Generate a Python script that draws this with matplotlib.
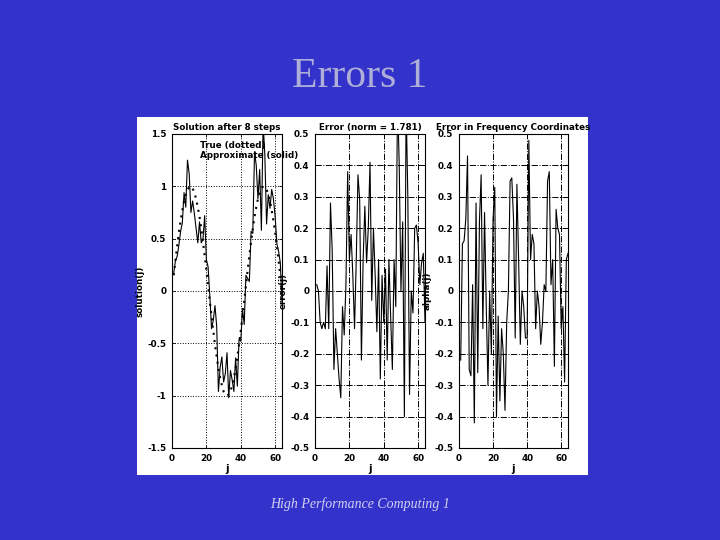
import matplotlib
matplotlib.use('Agg')
import matplotlib.pyplot as plt

# grid index j = 1..64
j = list(range(1, 65))

true_vals = [0.15, 0.29, 0.43, 0.56, 0.67, 0.77, 0.86, 0.92, 0.97, 0.99,
             1.00, 0.98, 0.94, 0.88, 0.80, 0.71, 0.60, 0.47, 0.34, 0.20,
             0.05, -0.10, -0.24, -0.38, -0.51, -0.63, -0.74, -0.83, -0.90, -0.96,
             -0.99, -1.00, -0.99, -0.96, -0.90, -0.83, -0.74, -0.63, -0.51, -0.38,
             -0.24, -0.10, 0.05, 0.20, 0.34, 0.47, 0.60, 0.71, 0.80, 0.88,
             0.94, 0.98, 1.00, 0.99, 0.97, 0.92, 0.86, 0.77, 0.67, 0.56,
             0.43, 0.29, 0.15, 0.00]

approx_vals = [0.17, 0.29, 0.33, 0.44, 0.57, 0.65, 0.94, 0.80, 1.25, 1.12,
               0.75, 0.86, 0.74, 0.60, 0.46, 0.66, 0.46, 0.49, 0.72, 0.30,
               0.23, -0.05, -0.36, -0.28, -0.14, -0.34, -0.96, -0.73, -0.63, -0.87,
               -0.79, -0.59, -1.02, -0.76, -0.85, -0.96, -0.64, -0.91, -0.46, -0.48,
               -0.17, -0.32, 0.15, 0.12, 0.09, 0.57, 0.55, 1.33, 1.20, 0.88,
               1.16, 0.58, 1.60, 1.30, 0.64, 0.92, 0.79, 0.97, 0.88, 0.71,
               0.45, 0.38, 0.27, -0.10]

error_vals = [0.02, 0.00, -0.10, -0.12, -0.10, -0.12, 0.08, -0.12, 0.28, 0.13,
              -0.25, -0.12, -0.20, -0.28, -0.34, -0.05, -0.14, 0.02, 0.38, 0.10,
              0.18, 0.05, -0.12, 0.10, 0.37, 0.29, -0.22, 0.10, 0.27, 0.09,
              0.20, 0.41, -0.03, 0.20, 0.05, -0.13, 0.10, -0.28, 0.05, -0.10,
              0.07, -0.22, 0.10, -0.08, -0.25, 0.10, -0.05, 0.62, 0.40, 0.00,
              0.22, -0.40, 0.60, 0.30, -0.33, 0.00, -0.07, 0.20, 0.21, 0.15,
              0.02, 0.09, 0.12, -0.10]

alpha_vals = [-0.22, 0.15, 0.16, 0.23, 0.43, -0.25, -0.27, 0.02, -0.42, 0.28,
              -0.26, 0.22, 0.37, -0.12, 0.25, -0.05, -0.30, 0.00, -0.20, 0.23,
              0.33, -0.40, -0.08, -0.35, -0.12, -0.20, -0.38, -0.10, 0.00, 0.35,
              0.36, 0.23, -0.15, 0.34, 0.10, -0.17, 0.00, -0.05, -0.15, -0.15,
              0.48, 0.10, 0.18, 0.15, -0.12, 0.00, -0.05, -0.17, -0.10, 0.02,
              0.00, 0.35, 0.38, 0.02, 0.10, -0.24, 0.26, 0.20, 0.18, -0.12,
              -0.05, -0.29, 0.10, 0.12]

x_ticks = [0, 20, 40, 60]
sol_ticks = [-1.5, -1, -0.5, 0, 0.5, 1, 1.5]
err_ticks = [-0.5, -0.4, -0.3, -0.2, -0.1, 0, 0.1, 0.2, 0.3, 0.4, 0.5]

slide_blue = '#3333CC'
fs = 6.3

fig = plt.figure(figsize=(7.2, 5.4), dpi=100, facecolor=slide_blue)

# white matlab figure pasted on the slide
bg = fig.add_axes([0.1903, 0.1204, 0.6264, 0.663])
bg.set_facecolor('white')
bg.set_xticks([])
bg.set_yticks([])
for s in bg.spines.values():
    s.set_visible(False)

fig.text(0.5, 0.857, 'Errors 1', ha='center', va='center', fontsize=30,
         family='Liberation Serif', color='#AEAED8')
fig.text(0.5, 0.066, 'High Performance Computing 1', ha='center', va='center',
         fontsize=10, family='Liberation Serif', style='italic', color='#D0D0F0')


def style_axes(ax, yticks, ylim, gridstyle):
    ax.set_xlim(0, 64)
    ax.set_ylim(*ylim)
    ax.set_xticks(x_ticks)
    ax.set_yticks(yticks)
    ax.set_yticklabels([('%g' % t) for t in yticks])
    ax.tick_params(direction='in', length=2.5, width=0.6, labelsize=fs,
                   top=True, right=True, pad=4)
    for lab in ax.get_xticklabels() + ax.get_yticklabels():
        lab.set_fontweight('bold')
    ax.grid(True, color='black', linestyle=gridstyle, linewidth=0.7)
    for s in ax.spines.values():
        s.set_linewidth(0.8)
    ax.set_xlabel('j', fontsize=fs + 1, labelpad=1, fontweight='bold')


ax1 = fig.add_axes([0.2389, 0.1704, 0.1528, 0.5815])
ax1.plot(j, true_vals, color='black', linestyle=(0, (1, 2.5)), linewidth=1.5)
ax1.plot(j, approx_vals, color='black', linewidth=0.8)
style_axes(ax1, sol_ticks, (-1.5, 1.5), ':')
ax1.set_title('Solution after 8 steps', fontsize=fs, pad=3, fontweight='bold')
ax1.set_ylabel('solution(j)', fontsize=fs, labelpad=2, fontweight='bold')
ax1.text(16, 1.39, 'True (dotted)', fontsize=fs, va='center', clip_on=False,
         fontweight='bold')
ax1.text(16, 1.29, 'Approximate (solid)', fontsize=fs, va='center', clip_on=False,
         fontweight='bold')

ax2 = fig.add_axes([0.4375, 0.1704, 0.1528, 0.5815])
ax2.plot(j, error_vals, color='black', linewidth=0.8)
style_axes(ax2, err_ticks, (-0.5, 0.5), '-.')
ax2.set_title('Error (norm = 1.781)', fontsize=fs, pad=3, fontweight='bold')
ax2.set_ylabel('error(j)', fontsize=fs, labelpad=2, fontweight='bold')

ax3 = fig.add_axes([0.6375, 0.1704, 0.1514, 0.5815])
ax3.plot(j, alpha_vals, color='black', linewidth=0.8)
style_axes(ax3, err_ticks, (-0.5, 0.5), '-.')
ax3.set_title('Error in Frequency Coordinates', fontsize=fs, pad=3, fontweight='bold')
ax3.set_ylabel('alpha(j)', fontsize=fs, labelpad=2, fontweight='bold')

plt.savefig('out.png', dpi=100, facecolor=slide_blue)
plt.close()
